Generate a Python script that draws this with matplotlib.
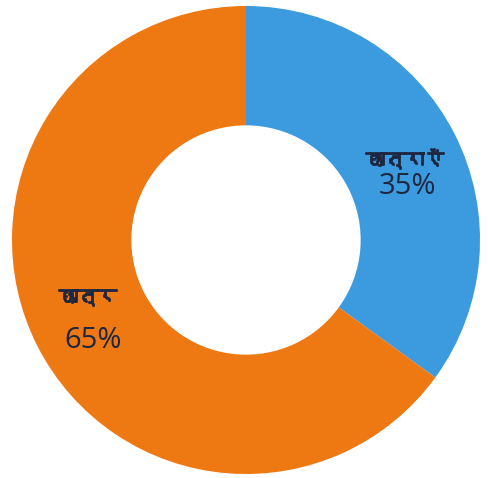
import matplotlib

matplotlib.use("Agg")
import matplotlib.pyplot as plt
import matplotlib.patheffects as pe
from matplotlib import font_manager
from matplotlib.ft2font import FT2Font


LABELS = ["छात्राएँ", "छात्र"]
VALUES = [35, 65]
COLORS = ["#3c9ade", "#ee7812"]


def find_font_for(char: str) -> str | None:
    code = ord(char)
    for entry in font_manager.fontManager.ttflist:
        try:
            if code in FT2Font(entry.fname).get_charmap():
                return entry.name
        except Exception:
            continue
    return None


deva = find_font_for("छ")
label_families = ([deva] if deva else []) + ["DejaVu Sans"]

fig = plt.figure(figsize=(4.88, 4.78), dpi=100)
ax = fig.add_axes([12 / 488, 4 / 478, 468 / 488, 468 / 478])
ax.pie(
    VALUES,
    colors=COLORS,
    startangle=90,
    counterclock=False,
    radius=1.0,
    wedgeprops={"width": 0.51, "linewidth": 0},
)
ax.set_xlim(-1, 1)
ax.set_ylim(-1, 1)
ax.set_aspect("equal")
ax.axis("off")

text_color = "#1e2740"
thick = [pe.withStroke(linewidth=1.3, foreground=text_color)]
# label positions inside each ring segment
spots = [((0.68, 0.345), (0.69, 0.23)), ((-0.675, -0.245), (-0.655, -0.43))]
for label, value, (lab_xy, pct_xy) in zip(LABELS, VALUES, spots):
    ax.text(*lab_xy, label, ha="center", va="center", fontsize=14,
            color=text_color, family=label_families, path_effects=thick)
    ax.text(*pct_xy, f"{value}%", ha="center", va="center", fontsize=21,
            color=text_color, family=["Open Sans", "DejaVu Sans"])

fig.savefig("out.png", dpi=100)
